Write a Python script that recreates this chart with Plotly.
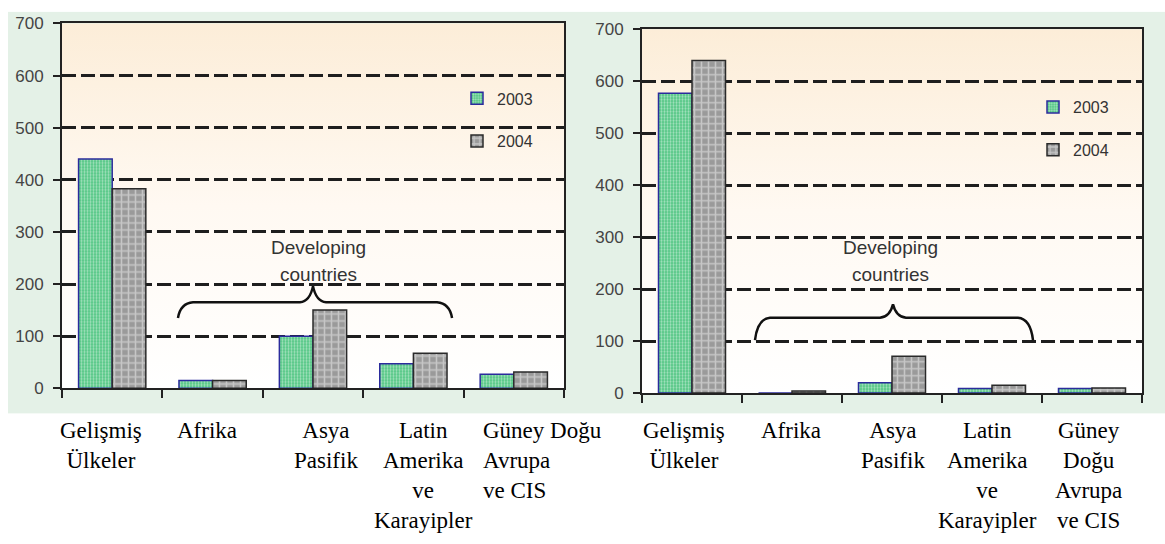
import base64
import plotly.graph_objects as go

# ---- data -------------------------------------------------------------
categories = [
    "Gelişmiş Ülkeler",
    "Afrika",
    "Asya Pasifik",
    "Latin Amerika ve Karayipler",
    "Güney Doğu Avrupa ve CIS",
]
years = ["2003", "2004"]

left_2003 = [440, 15, 100, 47, 27]
left_2004 = [383, 15, 150, 67, 31]

right_2003 = [577, 0, 20, 9, 9]
right_2004 = [640, 4, 71, 15, 10]

left_labels = [
    "Gelişmiş<br>Ülkeler",
    "Afrika",
    "Asya<br>Pasifik",
    "Latin<br>Amerika<br>ve<br>Karayipler",
    "Güney Doğu<br>Avrupa<br>ve CIS",
]
right_labels = [
    "Gelişmiş<br>Ülkeler",
    "Afrika",
    "Asya<br>Pasifik",
    "Latin<br>Amerika<br>ve<br>Karayipler",
    "Güney<br>Doğu<br>Avrupa<br>ve CIS",
]
group_note = ["Developing", "countries"]
y_ticks = [0, 100, 200, 300, 400, 500, 600, 700]

# ---- page geometry (pixels) ------------------------------------------
W, H = 1165, 544
LEFT_X, LEFT_Y = (62, 564), (15, 393)
RIGHT_X, RIGHT_Y = (642, 1142), (21, 398)


def fx(p):
    return p / W


def fy(p):
    return 1 - p / H


# ---- background: mint panel + peach-to-white plot areas ----------------
def rect_grad(x0, x1, y0, y1):
    return (f'<rect x="{x0}" y="{y0}" width="{x1 - x0}" height="{y1 - y0}" '
            f'fill="url(#g)"/>')


svg = (
    f'<svg xmlns="http://www.w3.org/2000/svg" width="{W}" height="{H}" '
    f'viewBox="0 0 {W} {H}" preserveAspectRatio="none">'
    '<defs><linearGradient id="g" x1="0" y1="0" x2="0" y2="1">'
    '<stop offset="0" stop-color="#fcedd8"/>'
    '<stop offset="0.5" stop-color="#fff9f2"/>'
    '<stop offset="1" stop-color="#ffffff"/>'
    '</linearGradient></defs>'
    f'<rect x="0" y="0" width="{W}" height="{H}" fill="#ffffff"/>'
    f'<rect x="8" y="3" width="{W - 8}" height="416" fill="#e4f1e7"/>'
    + rect_grad(*LEFT_X, *LEFT_Y)
    + rect_grad(*RIGHT_X, *RIGHT_Y)
    + '</svg>'
)
bg_src = "data:image/svg+xml;base64," + base64.b64encode(svg.encode()).decode()

# ---- bar styles --------------------------------------------------------
style_2003 = dict(
    color="#5cc98a",
    line=dict(color="#2b2b9c", width=1.5),
    pattern=dict(shape=".", fgcolor="#ffffff", bgcolor="#4cc47f",
                 size=3, solidity=0.45),
)
style_2004 = dict(
    color="#9c9c9c",
    line=dict(color="#2a2a2a", width=1.5),
    pattern=dict(shape="+", fgcolor="#f2f2f2", bgcolor="#9a9a9a",
                 size=7, solidity=0.4),
)

fig = go.Figure()

for vals, name, style, grp in [
    (left_2003, years[0], style_2003, "a"),
    (left_2004, years[1], style_2004, "b"),
]:
    fig.add_trace(go.Bar(x=categories, y=vals, name=name, marker=style,
                         xaxis="x", yaxis="y", legend="legend",
                         legendgroup="L" + grp))

for vals, name, style, grp in [
    (right_2003, years[0], style_2003, "a"),
    (right_2004, years[1], style_2004, "b"),
]:
    fig.add_trace(go.Bar(x=categories, y=vals, name=name, marker=style,
                         xaxis="x2", yaxis="y2", legend="legend2",
                         legendgroup="R" + grp))

axis_line = dict(showline=True, linecolor="#222222", linewidth=2, mirror=True)

xaxis_common = dict(
    type="category", showgrid=False, showticklabels=False,
    ticks="outside", tickson="boundaries", ticklen=8, tickwidth=2,
    tickcolor="#222222", fixedrange=True, **axis_line,
)
yaxis_common = dict(
    range=[0, 700], tickvals=y_ticks, ticks="outside", ticklen=7,
    tickwidth=2, tickcolor="#222222", showgrid=True, gridcolor="#1e1e1e",
    gridwidth=2.5, griddash="14px,5px", zeroline=False,
    ticklabelstandoff=6,
    tickfont=dict(family="Liberation Sans", size=17, color="#444444"),
    fixedrange=True, **axis_line,
)

legend_common = dict(
    bgcolor="rgba(0,0,0,0)", borderwidth=0, traceorder="grouped",
    tracegroupgap=19, xanchor="left", yanchor="top",
    font=dict(family="Liberation Sans", size=16, color="#333333"),
    itemclick=False, itemdoubleclick=False,
)


# ---- curly brace over the developing-country groups --------------------
def brace_path(xl, xr, xm, y_end, y_bar, y_tip):
    c = 0.03
    return (
        f"M{xl},{y_end} Q{xl + 0.005},{y_bar - 2} {xl + c},{y_bar} "
        f"L{xm - 0.026},{y_bar} Q{xm - 0.006},{y_bar + 2} {xm},{y_tip} "
        f"Q{xm + 0.006},{y_bar + 2} {xm + 0.026},{y_bar} "
        f"L{xr - c},{y_bar} Q{xr - 0.005},{y_bar - 2} {xr},{y_end}"
    )


shapes = [
    dict(type="path", xref="x domain", yref="y",
         path=brace_path(0.231, 0.777, 0.500, 135, 165, 196),
         line=dict(color="#111111", width=2.5)),
    dict(type="path", xref="x2 domain", yref="y2",
         path=brace_path(0.226, 0.782, 0.502, 102, 145, 171),
         line=dict(color="#111111", width=2.5)),
]

note_font = dict(family="Liberation Sans", size=19, color="#333333")
annotations = [
    dict(xref="x domain", yref="y", x=0.51, y=270, text=group_note[0],
         showarrow=False, font=note_font),
    dict(xref="x domain", yref="y", x=0.51, y=218, text=group_note[1],
         showarrow=False, font=note_font),
    dict(xref="x2 domain", yref="y2", x=0.497, y=280, text=group_note[0],
         showarrow=False, font=note_font),
    dict(xref="x2 domain", yref="y2", x=0.497, y=228, text=group_note[1],
         showarrow=False, font=note_font),
]

# category captions under each chart (serif face)
label_font = dict(family="Liberation Serif", size=23, color="#000000")
left_pos = [101, 207, 326, 423, 481]
right_pos = [684, 791, 893, 988, 1088]
for labels, positions in ((left_labels, left_pos), (right_labels, right_pos)):
    for i, (txt, px) in enumerate(zip(labels, positions)):
        left_aligned = labels is left_labels and i == 4
        annotations.append(dict(
            xref="paper", yref="paper", x=fx(px), y=fy(422),
            xanchor="left" if left_aligned else "center", yanchor="top",
            align="left" if left_aligned else "center",
            text=txt, showarrow=False, font=label_font,
        ))

fig.update_layout(
    width=W, height=H,
    margin=dict(l=0, r=0, t=0, b=0),
    paper_bgcolor="#ffffff",
    plot_bgcolor="rgba(0,0,0,0)",
    barmode="group", bargap=0.33, bargroupgap=0,
    xaxis=dict(domain=[fx(LEFT_X[0]), fx(LEFT_X[1])], anchor="y",
               **xaxis_common),
    yaxis=dict(domain=[fy(LEFT_Y[1]), fy(LEFT_Y[0])], anchor="x",
               **yaxis_common),
    xaxis2=dict(domain=[fx(RIGHT_X[0]), fx(RIGHT_X[1])], anchor="y2",
                **xaxis_common),
    yaxis2=dict(domain=[fy(RIGHT_Y[1]), fy(RIGHT_Y[0])], anchor="x2",
                **yaxis_common),
    legend=dict(x=fx(457), y=fy(75), **legend_common),
    legend2=dict(x=fx(1033), y=fy(84), **legend_common),
    shapes=shapes,
    annotations=annotations,
    images=[dict(source=bg_src, xref="paper", yref="paper", x=0, y=1,
                 sizex=1, sizey=1, xanchor="left", yanchor="top",
                 sizing="stretch", layer="below")],
    showlegend=True,
)

fig.write_html("out.html")
